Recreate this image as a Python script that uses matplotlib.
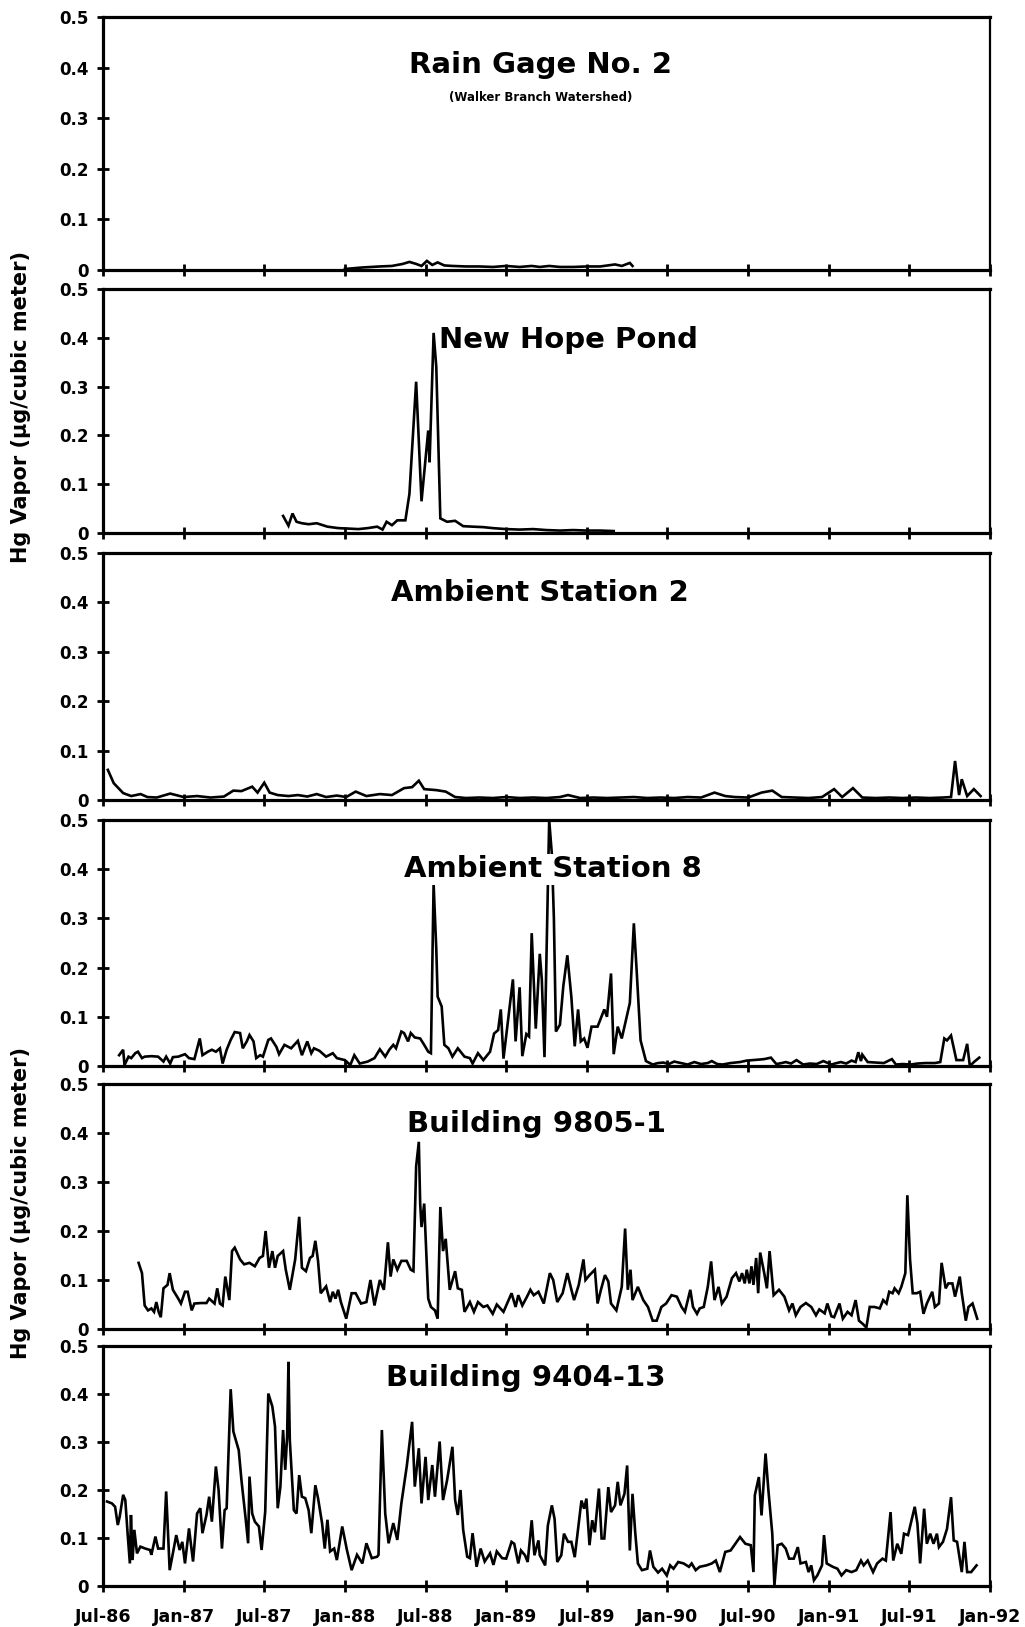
import matplotlib
matplotlib.use("Agg")
import matplotlib.pyplot as plt

# ---------------- data (x = months since Jul-1986, y = ug/m3) ----------------
x_tick_labels = ["Jul-86", "Jan-87", "Jul-87", "Jan-88", "Jul-88", "Jan-89",
                 "Jul-89", "Jan-90", "Jul-90", "Jan-91", "Jul-91", "Jan-92"]
y_tick_labels = ["0", "0.1", "0.2", "0.3", "0.4", "0.5"]

titles = ["Rain Gage No. 2", "New Hope Pond", "Ambient Station 2",
          "Ambient Station 8", "Building 9805-1", "Building 9404-13"]
subtitle = "(Walker Branch Watershed)"
ylabel = "Hg Vapor (\u03bcg/cubic meter)"

rain_gage = [(18.0, 0.002), (19.3, 0.005), (20.6, 0.007), (21.5, 0.008), (22.3, 0.012),
             (22.8, 0.016), (23.3, 0.012), (23.7, 0.008), (24.1, 0.018), (24.5, 0.010),
             (24.9, 0.015), (25.4, 0.009), (26.0, 0.008), (27.0, 0.007), (28.0, 0.007),
             (29.0, 0.006), (30.0, 0.008), (31.0, 0.006), (31.9, 0.008), (32.5, 0.006),
             (33.2, 0.008), (34.0, 0.006), (35.0, 0.006), (36.0, 0.007), (37.0, 0.007),
             (38.1, 0.011), (38.6, 0.008), (39.2, 0.014), (39.4, 0.008)]

new_hope = [(13.4, 0.035), (13.8, 0.015), (14.1, 0.040), (14.4, 0.023), (14.8, 0.020),
            (15.3, 0.018), (15.9, 0.020), (16.7, 0.013), (17.5, 0.010), (18.3, 0.009),
            (19.0, 0.008), (19.7, 0.010), (20.4, 0.013), (20.8, 0.007), (21.1, 0.023),
            (21.5, 0.016), (21.9, 0.026), (22.5, 0.026), (22.8, 0.080), (23.3, 0.310),
            (23.7, 0.065), (24.2, 0.210), (24.3, 0.145), (24.6, 0.410), (24.8, 0.340),
            (25.1, 0.030), (25.6, 0.023), (26.2, 0.025), (26.8, 0.014), (27.5, 0.013),
            (28.3, 0.012), (29.0, 0.010), (30.0, 0.008), (31.0, 0.007), (32.0, 0.008),
            (33.0, 0.006), (34.0, 0.005), (35.0, 0.006), (36.0, 0.005), (37.0, 0.005),
            (38.0, 0.004)]

ambient2 = [(0.36, 0.061), (0.8, 0.034), (1.5, 0.014), (2.1, 0.008), (2.8, 0.012),
            (3.3, 0.006), (4.0, 0.005), (5.0, 0.013), (6.0, 0.006), (7.0, 0.008),
            (8.0, 0.005), (9.0, 0.007), (9.7, 0.019), (10.3, 0.018), (11.1, 0.027),
            (11.5, 0.015), (12.0, 0.035), (12.4, 0.015), (13.0, 0.010), (13.8, 0.008),
            (14.5, 0.010), (15.2, 0.007), (15.9, 0.012), (16.6, 0.006), (17.4, 0.009),
            (18.1, 0.006), (18.8, 0.017), (19.6, 0.008), (20.6, 0.012), (21.5, 0.010),
            (22.4, 0.024), (23.0, 0.026), (23.5, 0.039), (23.9, 0.022), (24.8, 0.020),
            (25.5, 0.017), (26.2, 0.006), (27.0, 0.004), (28.0, 0.005), (29.0, 0.004),
            (30.0, 0.006), (31.0, 0.004), (32.0, 0.005), (33.0, 0.004), (34.0, 0.006),
            (34.6, 0.010), (35.5, 0.004), (36.5, 0.005), (37.5, 0.004), (38.5, 0.005),
            (39.5, 0.006), (40.5, 0.004), (41.5, 0.005), (42.5, 0.004), (43.5, 0.006),
            (44.5, 0.005), (45.5, 0.015), (46.3, 0.008), (47.0, 0.006), (48.0, 0.005),
            (49.0, 0.015), (49.8, 0.019), (50.5, 0.006), (51.5, 0.005), (52.5, 0.004),
            (53.5, 0.006), (54.4, 0.022), (55.0, 0.006), (55.8, 0.024), (56.5, 0.005),
            (57.5, 0.004), (58.5, 0.005), (59.5, 0.004), (60.5, 0.005), (61.5, 0.004),
            (62.5, 0.005), (63.1, 0.006), (63.4, 0.079), (63.7, 0.010), (63.9, 0.042),
            (64.3, 0.008), (64.8, 0.022), (65.3, 0.008)]

ambient8 = [(1.2, 0.022), (1.5, 0.033), (1.6, 0.002), (1.9, 0.019), (2.1, 0.016), (2.4, 0.026),
            (2.6, 0.029), (2.9, 0.016), (3.1, 0.019), (3.6, 0.020), (4.1, 0.019), (4.5, 0.009),
            (4.7, 0.019), (5.0, 0.005), (5.2, 0.018), (5.6, 0.019), (6.1, 0.024), (6.4, 0.016),
            (6.8, 0.014), (7.2, 0.056), (7.4, 0.022), (7.8, 0.029), (8.1, 0.033), (8.4, 0.029),
            (8.7, 0.036), (8.9, 0.005), (9.2, 0.033), (9.5, 0.053), (9.8, 0.069), (10.2, 0.067),
            (10.4, 0.036), (10.7, 0.050), (10.9, 0.063), (11.2, 0.050), (11.4, 0.016), (11.7, 0.022),
            (11.9, 0.019), (12.3, 0.053), (12.5, 0.056), (12.9, 0.039), (13.1, 0.024), (13.5, 0.043),
            (14.0, 0.036), (14.5, 0.051), (14.8, 0.022), (15.2, 0.050), (15.5, 0.026), (15.7, 0.036),
            (16.1, 0.031), (16.6, 0.019), (17.1, 0.026), (17.4, 0.016), (18.0, 0.012), (18.4, 0.002),
            (18.7, 0.022), (19.1, 0.005), (19.7, 0.009), (20.2, 0.016), (20.6, 0.034), (21.0, 0.019),
            (21.3, 0.033), (21.6, 0.043), (21.8, 0.036), (22.2, 0.070), (22.4, 0.067), (22.7, 0.050),
            (22.9, 0.067), (23.2, 0.058), (23.6, 0.056), (23.9, 0.043), (24.2, 0.029), (24.4, 0.026),
            (24.6, 0.370), (24.8, 0.237), (24.9, 0.141), (25.2, 0.121), (25.4, 0.043), (25.7, 0.036),
            (26.0, 0.019), (26.4, 0.036), (26.9, 0.019), (27.3, 0.016), (27.5, 0.005), (27.9, 0.026),
            (28.3, 0.012), (28.8, 0.029), (29.1, 0.066), (29.4, 0.073), (29.6, 0.115), (29.8, 0.015),
            (30.2, 0.107), (30.5, 0.176), (30.7, 0.050), (31.0, 0.160), (31.2, 0.020), (31.5, 0.065),
            (31.7, 0.060), (31.9, 0.270), (32.2, 0.076), (32.5, 0.228), (32.65, 0.176), (32.85, 0.018),
            (33.2, 0.500), (33.4, 0.430), (33.55, 0.300), (33.7, 0.070), (34.0, 0.084), (34.25, 0.162),
            (34.55, 0.225), (34.85, 0.140), (35.1, 0.040), (35.35, 0.115), (35.55, 0.050), (35.8, 0.056),
            (36.05, 0.037), (36.35, 0.080), (36.8, 0.080), (37.3, 0.115), (37.5, 0.100), (37.8, 0.188),
            (38.0, 0.024), (38.3, 0.080), (38.6, 0.056), (39.2, 0.128), (39.5, 0.290), (39.7, 0.198),
            (40.0, 0.052), (40.4, 0.010), (40.9, 0.003), (41.3, 0.006), (41.7, 0.007), (42.1, 0.004),
            (42.5, 0.009), (43.0, 0.006), (43.5, 0.003), (44.0, 0.008), (44.5, 0.004), (45.0, 0.006),
            (45.3, 0.010), (45.7, 0.004), (46.1, 0.003), (46.7, 0.006), (47.4, 0.008), (47.9, 0.011),
            (48.4, 0.012), (48.8, 0.013), (49.2, 0.014), (49.7, 0.017), (50.1, 0.004), (50.5, 0.006),
            (50.8, 0.008), (51.2, 0.005), (51.6, 0.012), (52.1, 0.003), (52.6, 0.005), (53.1, 0.004),
            (53.6, 0.010), (54.2, 0.003), (54.6, 0.006), (54.9, 0.008), (55.3, 0.005), (55.7, 0.011),
            (56.0, 0.008), (56.2, 0.028), (56.4, 0.010), (56.5, 0.023), (56.9, 0.008), (57.5, 0.007),
            (58.1, 0.006), (58.7, 0.014), (59.0, 0.003), (59.5, 0.004), (60.1, 0.003), (60.6, 0.005),
            (61.2, 0.006), (61.9, 0.006), (62.3, 0.008), (62.6, 0.056), (62.8, 0.052), (63.1, 0.062),
            (63.5, 0.012), (64.0, 0.012), (64.3, 0.045), (64.5, 0.000), (64.8, 0.008), (65.2, 0.017)]

building9805 = [(2.65, 0.135), (2.9, 0.114), (3.1, 0.048), (3.35, 0.038), (3.6, 0.042), (3.8, 0.035),
                (3.97, 0.055), (4.14, 0.035), (4.3, 0.024), (4.5, 0.083), (4.8, 0.090), (4.96, 0.114),
                (5.2, 0.080), (5.6, 0.062), (5.8, 0.052), (6.1, 0.076), (6.3, 0.076), (6.6, 0.038),
                (6.8, 0.052), (7.3, 0.053), (7.7, 0.053), (7.9, 0.062), (8.3, 0.052), (8.5, 0.083),
                (8.7, 0.052), (8.9, 0.048), (9.1, 0.107), (9.4, 0.059), (9.6, 0.159), (9.8, 0.166),
                (10.2, 0.142), (10.5, 0.132), (10.9, 0.135), (11.3, 0.128), (11.65, 0.145), (11.9, 0.149),
                (12.1, 0.200), (12.35, 0.125), (12.6, 0.159), (12.8, 0.125), (13.0, 0.149), (13.4, 0.159),
                (13.6, 0.121), (13.9, 0.080), (14.3, 0.142), (14.6, 0.229), (14.8, 0.125), (15.1, 0.118),
                (15.4, 0.145), (15.6, 0.149), (15.8, 0.180), (16.0, 0.139), (16.2, 0.073), (16.6, 0.087),
                (16.9, 0.055), (17.1, 0.076), (17.3, 0.062), (17.5, 0.080), (17.7, 0.055), (18.1, 0.021),
                (18.5, 0.073), (18.8, 0.073), (19.2, 0.052), (19.6, 0.055), (19.9, 0.100), (20.2, 0.048),
                (20.6, 0.100), (20.9, 0.080), (21.2, 0.177), (21.4, 0.107), (21.6, 0.142), (21.9, 0.121),
                (22.2, 0.139), (22.6, 0.139), (22.9, 0.121), (23.1, 0.118), (23.3, 0.332), (23.5, 0.382),
                (23.6, 0.256), (23.7, 0.208), (23.9, 0.256), (24.2, 0.062), (24.4, 0.045), (24.7, 0.038),
                (24.9, 0.021), (25.1, 0.249), (25.3, 0.159), (25.5, 0.184), (25.8, 0.080), (26.2, 0.118),
                (26.4, 0.083), (26.7, 0.080), (26.9, 0.035), (27.3, 0.055), (27.6, 0.035), (27.9, 0.055),
                (28.3, 0.045), (28.6, 0.048), (29.0, 0.031), (29.3, 0.050), (29.8, 0.035), (30.4, 0.073),
                (30.7, 0.045), (30.9, 0.069), (31.2, 0.048), (31.55, 0.066), (31.8, 0.080), (32.05, 0.069),
                (32.4, 0.076), (32.8, 0.052), (33.25, 0.114), (33.5, 0.100), (33.8, 0.055), (34.2, 0.073),
                (34.55, 0.114), (34.8, 0.086), (35.05, 0.059), (35.4, 0.090), (35.75, 0.142), (35.9, 0.100),
                (36.2, 0.110), (36.6, 0.121), (36.8, 0.052), (37.05, 0.080), (37.35, 0.110), (37.6, 0.097),
                (37.8, 0.052), (38.2, 0.038), (38.6, 0.086), (38.85, 0.205), (39.05, 0.080), (39.25, 0.121),
                (39.4, 0.059), (39.8, 0.086), (40.2, 0.059), (40.55, 0.045), (40.9, 0.017), (41.2, 0.017),
                (41.55, 0.045), (41.9, 0.052), (42.3, 0.069), (42.7, 0.066), (43.05, 0.045), (43.3, 0.035),
                (43.7, 0.080), (43.9, 0.045), (44.2, 0.031), (44.4, 0.042), (44.7, 0.045), (45.0, 0.086),
                (45.25, 0.138), (45.5, 0.059), (45.8, 0.086), (46.05, 0.052), (46.4, 0.066), (46.8, 0.104),
                (47.1, 0.114), (47.35, 0.097), (47.55, 0.114), (47.75, 0.093), (47.9, 0.121), (48.1, 0.093),
                (48.25, 0.128), (48.4, 0.090), (48.6, 0.145), (48.75, 0.073), (48.9, 0.156), (49.2, 0.114),
                (49.4, 0.083), (49.6, 0.159), (49.9, 0.069), (50.3, 0.080), (50.7, 0.066), (51.05, 0.038),
                (51.3, 0.052), (51.55, 0.028), (51.9, 0.045), (52.3, 0.053), (52.7, 0.045), (53.05, 0.028),
                (53.3, 0.040), (53.7, 0.032), (53.9, 0.052), (54.2, 0.026), (54.4, 0.024), (54.8, 0.052),
                (55.05, 0.021), (55.4, 0.035), (55.7, 0.028), (56.0, 0.059), (56.25, 0.017), (56.55, 0.010),
                (56.8, 0.003), (57.05, 0.045), (57.4, 0.045), (57.8, 0.042), (58.05, 0.059), (58.3, 0.052),
                (58.5, 0.076), (58.75, 0.073), (58.9, 0.083), (59.2, 0.073), (59.4, 0.086), (59.7, 0.114),
                (59.85, 0.273), (60.05, 0.142), (60.25, 0.073), (60.55, 0.073), (60.8, 0.076), (61.05, 0.031),
                (61.3, 0.052), (61.7, 0.076), (61.9, 0.045), (62.2, 0.052), (62.4, 0.135), (62.7, 0.083),
                (62.9, 0.093), (63.2, 0.093), (63.4, 0.066), (63.75, 0.107), (63.9, 0.073), (64.2, 0.017),
                (64.4, 0.045), (64.7, 0.052), (65.05, 0.021)]

building9404 = [(0.3, 0.176), (0.67, 0.172), (0.9, 0.165), (1.1, 0.127), (1.24, 0.144), (1.5, 0.190),
                (1.66, 0.179), (1.83, 0.110), (2.0, 0.047), (2.08, 0.148), (2.2, 0.054), (2.33, 0.117),
                (2.53, 0.068), (2.78, 0.082), (3.15, 0.078), (3.5, 0.075), (3.6, 0.065), (3.9, 0.103),
                (4.1, 0.078), (4.5, 0.078), (4.7, 0.197), (4.96, 0.033), (5.2, 0.068), (5.45, 0.106),
                (5.7, 0.075), (5.9, 0.092), (6.1, 0.047), (6.4, 0.120), (6.7, 0.051), (7.0, 0.151),
                (7.24, 0.162), (7.4, 0.110), (7.7, 0.148), (7.9, 0.186), (8.1, 0.134), (8.4, 0.249),
                (8.6, 0.200), (8.85, 0.078), (9.05, 0.158), (9.2, 0.162), (9.5, 0.410), (9.7, 0.322),
                (9.84, 0.308), (10.1, 0.283), (10.3, 0.221), (10.6, 0.144), (10.8, 0.089), (10.9, 0.228),
                (11.1, 0.151), (11.3, 0.134), (11.6, 0.124), (11.8, 0.075), (12.07, 0.155), (12.3, 0.401),
                (12.6, 0.374), (12.8, 0.332), (13.0, 0.162), (13.2, 0.207), (13.4, 0.325), (13.56, 0.242),
                (13.7, 0.311), (13.8, 0.467), (13.9, 0.304), (14.06, 0.228), (14.2, 0.158), (14.4, 0.151),
                (14.6, 0.231), (14.8, 0.186), (15.05, 0.183), (15.3, 0.158), (15.5, 0.110), (15.8, 0.210),
                (16.0, 0.183), (16.3, 0.131), (16.5, 0.078), (16.7, 0.138), (16.9, 0.072), (17.2, 0.078),
                (17.4, 0.054), (17.8, 0.124), (18.15, 0.075), (18.5, 0.033), (18.9, 0.065), (19.3, 0.047),
                (19.6, 0.089), (20.0, 0.058), (20.4, 0.061), (20.5, 0.065), (20.75, 0.325), (21.0, 0.151),
                (21.25, 0.089), (21.6, 0.131), (21.9, 0.096), (22.2, 0.172), (22.6, 0.249), (23.0, 0.342),
                (23.2, 0.207), (23.5, 0.287), (23.7, 0.172), (24.0, 0.269), (24.2, 0.179), (24.5, 0.252),
                (24.7, 0.186), (25.05, 0.301), (25.3, 0.179), (25.6, 0.220), (26.0, 0.290), (26.2, 0.179),
                (26.4, 0.148), (26.6, 0.200), (26.8, 0.117), (27.1, 0.061), (27.3, 0.058), (27.5, 0.110),
                (27.8, 0.040), (28.1, 0.078), (28.4, 0.051), (28.8, 0.068), (29.05, 0.044), (29.3, 0.072),
                (29.7, 0.058), (30.0, 0.057), (30.4, 0.092), (30.6, 0.088), (30.9, 0.047), (31.1, 0.074),
                (31.4, 0.064), (31.6, 0.050), (31.9, 0.137), (32.1, 0.064), (32.4, 0.095), (32.5, 0.064),
                (32.9, 0.043), (33.1, 0.126), (33.4, 0.168), (33.6, 0.140), (33.8, 0.050), (34.1, 0.064),
                (34.3, 0.109), (34.6, 0.092), (34.85, 0.092), (35.1, 0.060), (35.35, 0.119), (35.6, 0.178),
                (35.8, 0.161), (35.97, 0.182), (36.2, 0.085), (36.4, 0.137), (36.6, 0.112), (36.9, 0.203),
                (37.1, 0.099), (37.3, 0.099), (37.6, 0.206), (37.8, 0.154), (38.1, 0.168), (38.3, 0.217),
                (38.5, 0.168), (38.8, 0.192), (39.0, 0.251), (39.2, 0.074), (39.4, 0.192), (39.6, 0.112),
                (39.8, 0.047), (40.1, 0.033), (40.5, 0.036), (40.7, 0.074), (40.95, 0.040), (41.3, 0.028),
                (41.6, 0.036), (41.95, 0.022), (42.2, 0.043), (42.45, 0.036), (42.8, 0.050), (43.2, 0.047),
                (43.6, 0.040), (43.8, 0.047), (44.1, 0.033), (44.4, 0.040), (44.9, 0.043), (45.3, 0.047),
                (45.6, 0.053), (45.9, 0.029), (46.3, 0.071), (46.7, 0.074), (47.05, 0.088), (47.4, 0.102),
                (47.8, 0.088), (48.2, 0.085), (48.4, 0.029), (48.5, 0.189), (48.8, 0.227), (49.0, 0.147),
                (49.3, 0.276), (49.5, 0.203), (49.8, 0.109), (49.96, 0.001), (50.2, 0.085), (50.5, 0.088),
                (50.8, 0.078), (51.05, 0.057), (51.4, 0.057), (51.7, 0.081), (51.9, 0.047), (52.3, 0.050),
                (52.5, 0.029), (52.7, 0.043), (52.9, 0.012), (53.15, 0.022), (53.5, 0.043), (53.65, 0.106),
                (53.85, 0.047), (54.3, 0.040), (54.65, 0.036), (54.95, 0.022), (55.3, 0.033), (55.7, 0.029),
                (56.05, 0.033), (56.4, 0.053), (56.6, 0.043), (56.9, 0.053), (57.3, 0.029), (57.6, 0.047),
                (58.0, 0.057), (58.25, 0.053), (58.6, 0.154), (58.8, 0.053), (59.1, 0.088), (59.4, 0.067),
                (59.6, 0.109), (59.9, 0.106), (60.1, 0.130), (60.4, 0.165), (60.6, 0.130), (60.8, 0.047),
                (61.1, 0.161), (61.3, 0.088), (61.55, 0.109), (61.8, 0.088), (62.05, 0.109), (62.2, 0.081),
                (62.5, 0.092), (62.8, 0.119), (63.1, 0.185), (63.3, 0.095), (63.55, 0.092), (63.9, 0.029),
                (64.1, 0.092), (64.3, 0.029), (64.6, 0.029), (65.0, 0.043)]

series = [rain_gage, new_hope, ambient2, ambient8, building9805, building9404]

# ---------------- layout ----------------
W, H = 1025, 1627
LEFT, RIGHT = 103, 990
panel_px = [(17, 270), (289, 533), (553, 800), (820, 1066), (1084, 1329), (1346, 1586)]
title_pos = [(0.493, 0.81), (0.525, 0.79), (0.493, 0.838), (0.507, 0.80), (0.489, 0.837), (0.477, 0.867)]

plt.rcParams['font.family'] = ['DejaVu Sans']
fig = plt.figure(figsize=(W / 100, H / 100), dpi=100)

for i, (top, bot) in enumerate(panel_px):
    ax = fig.add_axes([LEFT / W, 1 - bot / H, (RIGHT - LEFT) / W, (bot - top) / H])
    xs = [p[0] for p in series[i]]
    ys = [p[1] for p in series[i]]
    ax.plot(xs, ys, color='black', lw=1.9, solid_joinstyle='miter', clip_on=True)
    ax.set_xlim(0, 66)
    ax.set_ylim(0, 0.5)
    ax.set_xticks(range(0, 67, 6))
    ax.set_yticks([0, 0.1, 0.2, 0.3, 0.4, 0.5])
    ax.set_yticklabels(y_tick_labels, fontsize=12, fontweight='bold')
    if i == len(panel_px) - 1:
        ax.set_xticklabels(x_tick_labels, fontsize=12.5, fontweight='bold')
    else:
        ax.set_xticklabels([])
    ax.tick_params(axis='both', direction='inout', length=8, width=2, color='black')
    ax.tick_params(axis='x', pad=12)
    ax.tick_params(axis='y', pad=6)
    for s in ['left', 'bottom', 'top']:
        ax.spines[s].set_linewidth(2.3)
    ax.spines['right'].set_linewidth(1.6)
    tx, ty = title_pos[i]
    ax.text(tx, ty, titles[i], transform=ax.transAxes, ha='center', va='center',
            fontsize=21, fontweight='bold', zorder=5,
            bbox=dict(facecolor='white', edgecolor='none', pad=1.0))
    if i == 0:
        ax.text(tx, 0.68, subtitle, transform=ax.transAxes, ha='center', va='center',
                fontsize=8.5, fontweight='bold')

fig.text(21 / W, 1 - 407 / H, ylabel, rotation=90, ha='center', va='center',
         fontsize=15, fontweight='bold')
fig.text(21 / W, 1 - 1203 / H, ylabel, rotation=90, ha='center', va='center',
         fontsize=15, fontweight='bold')

fig.savefig("out.png", dpi=100)
